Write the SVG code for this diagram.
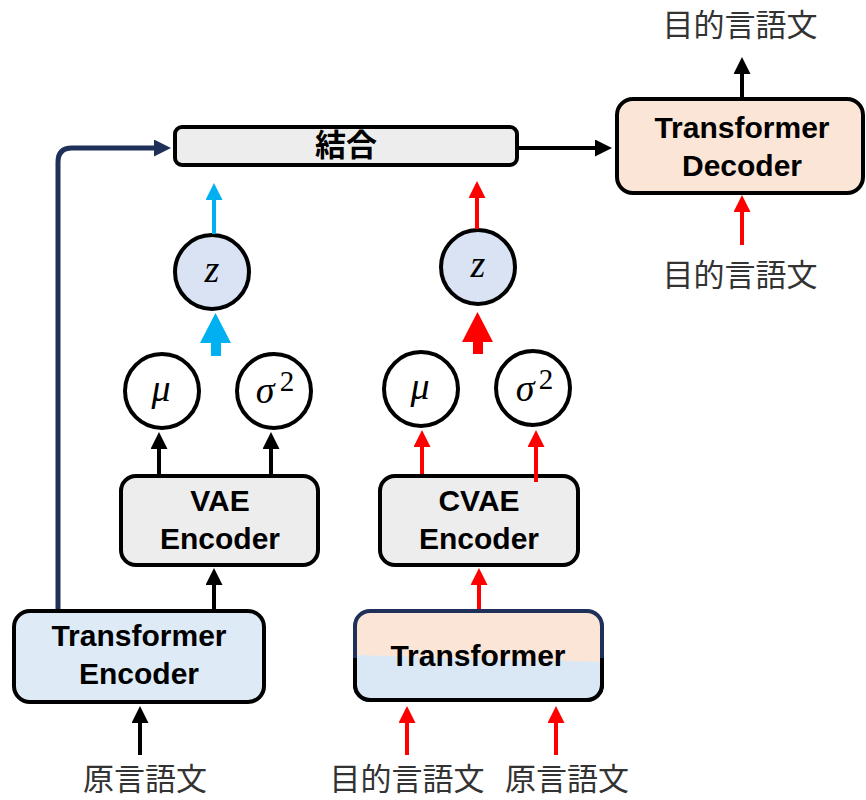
<svg xmlns="http://www.w3.org/2000/svg" width="866" height="800" viewBox="0 0 866 800">
<style>
.box{stroke:#000;stroke-width:4}
.gray{fill:#ededed}
.lbl{font-family:"Liberation Sans",Arial,sans-serif;font-weight:bold;font-size:30px;text-anchor:middle;fill:#000}
.jp{font-family:"Noto Sans CJK JP",sans-serif;font-size:31px;text-anchor:middle;fill:#333}
.jpb{font-family:"Noto Sans CJK JP",sans-serif;font-weight:bold;font-size:31px;text-anchor:middle;fill:#000}
.math{font-family:"Liberation Serif","Times New Roman",serif;font-style:italic;font-size:38px;text-anchor:middle;fill:#000}
.sup{font-family:"Liberation Serif","Times New Roman",serif;font-size:29px;text-anchor:middle;fill:#000}
.circ{fill:#fff;stroke:#000;stroke-width:4}
.zc{fill:#dae3f3;stroke:#000;stroke-width:4}
.c{fill:none;stroke-width:4}
.k{stroke:#000}
.r{stroke:#ff0000}
.b{stroke:#00b0f0}
.n{stroke:#1f3158;stroke-width:5}
</style>
<defs>
<marker id="ak" markerUnits="userSpaceOnUse" markerWidth="17" markerHeight="17" refX="0" refY="8.5" orient="auto"><path d="M0,0 L17,8.5 L0,17 z" fill="#000"/></marker>
<marker id="ar" markerUnits="userSpaceOnUse" markerWidth="17" markerHeight="17" refX="0" refY="8.5" orient="auto"><path d="M0,0 L17,8.5 L0,17 z" fill="#ff0000"/></marker>
<marker id="ab" markerUnits="userSpaceOnUse" markerWidth="17" markerHeight="17" refX="0" refY="8.5" orient="auto"><path d="M0,0 L17,8.5 L0,17 z" fill="#00b0f0"/></marker>
<marker id="an" markerUnits="userSpaceOnUse" markerWidth="17" markerHeight="17" refX="0" refY="8.5" orient="auto"><path d="M0,0 L17,8.5 L0,17 z" fill="#1f3158"/></marker>
<clipPath id="tclip"><rect x="355" y="611" width="247" height="89" rx="15"/></clipPath>
<clipPath id="lower"><rect x="340" y="658" width="280" height="60"/></clipPath>
</defs>

<g id="concat">
<rect class="box gray" x="175" y="127" width="342" height="38" rx="7"/>
<text class="jpb" x="346" y="156">結合</text>
</g>

<g id="decoder">
<rect class="box" fill="#fbe5d6" x="617" y="99" width="246" height="94" rx="16"/>
<text class="lbl" x="742" y="138">Transformer</text>
<text class="lbl" x="742" y="176">Decoder</text>
</g>

<g id="z-left">
<circle class="zc" cx="212" cy="272" r="37"/>
<text class="math" x="212" y="282">z</text>
</g>
<g id="z-right">
<circle class="zc" cx="478" cy="267" r="37"/>
<text class="math" x="478" y="277">z</text>
</g>

<g id="mu-left">
<circle class="circ" cx="162" cy="391" r="37"/>
<text class="math" x="161" y="401">μ</text>
</g>
<g id="sigma-left">
<circle class="circ" cx="274" cy="391" r="37"/>
<text class="math" x="265" y="403">σ</text>
<text class="sup" x="287" y="391">2</text>
</g>
<g id="mu-right">
<circle class="circ" cx="421" cy="389" r="37"/>
<text class="math" x="420" y="399">μ</text>
</g>
<g id="sigma-right">
<circle class="circ" cx="533" cy="388" r="37"/>
<text class="math" x="525" y="401">σ</text>
<text class="sup" x="546" y="389">2</text>
</g>

<g id="vae-encoder">
<rect class="box gray" x="121" y="476" width="197" height="89" rx="15"/>
<text class="lbl" x="220" y="511">VAE</text>
<text class="lbl" x="220" y="549">Encoder</text>
</g>
<g id="cvae-encoder">
<rect class="box gray" x="380" y="476" width="198" height="89" rx="15"/>
<text class="lbl" x="479" y="511">CVAE</text>
<text class="lbl" x="479" y="549">Encoder</text>
</g>

<g id="transformer-encoder">
<rect class="box" fill="#deebf7" x="14" y="611" width="250" height="91" rx="16"/>
<text class="lbl" x="139" y="646">Transformer</text>
<text class="lbl" x="139" y="684">Encoder</text>
</g>

<g id="transformer">
<g clip-path="url(#tclip)">
<rect x="355" y="611" width="247" height="89" fill="#fbe5d6"/>
<polygon points="355,655 602,662 602,700 355,700" fill="#dae8f5"/>
</g>
<rect x="355" y="611" width="247" height="89" rx="15" fill="none" stroke="#1f3158" stroke-width="4"/>
<rect x="355" y="611" width="247" height="89" rx="15" fill="none" stroke="#000" stroke-width="4" clip-path="url(#lower)"/>
<text class="lbl" x="478" y="666">Transformer</text>
</g>

<g id="connectors">
<path class="c n" d="M58,609 V162 Q58,148 72,148 H154" marker-end="url(#an)"/>
<path class="c k" d="M517,148 H595" marker-end="url(#ak)"/>
<path class="c b" d="M214,234 V200" marker-end="url(#ab)"/>
<path class="c r" d="M477,229 V198" marker-end="url(#ar)"/>
<polygon points="200,343 215.5,313 231,343 221,343 221,356 211,356 211,343" fill="#00b0f0"/>
<polygon points="462,342 477.5,312 493,342 483,342 483,354 473,354 473,342" fill="#ff0000"/>
<path class="c k" d="M159,474 V449" marker-end="url(#ak)"/>
<path class="c k" d="M271,474 V449" marker-end="url(#ak)"/>
<path class="c r" d="M422,474 V447" marker-end="url(#ar)"/>
<path class="c r" d="M536,482 V447" marker-end="url(#ar)"/>
<path class="c k" d="M214,609 V585" marker-end="url(#ak)"/>
<path class="c r" d="M479,609 V585" marker-end="url(#ar)"/>
<path class="c k" d="M140,755 V723" marker-end="url(#ak)"/>
<path class="c r" d="M407,755 V723" marker-end="url(#ar)"/>
<path class="c r" d="M556,755 V723" marker-end="url(#ar)"/>
<path class="c k" d="M742,97 V74" marker-end="url(#ak)"/>
<path class="c r" d="M742,245 V212" marker-end="url(#ar)"/>
</g>

<g id="labels">
<text class="jp" x="740" y="36">目的言語文</text>
<text class="jp" x="740" y="286">目的言語文</text>
<text class="jp" x="145" y="790">原言語文</text>
<text class="jp" x="407" y="790">目的言語文</text>
<text class="jp" x="567" y="790">原言語文</text>
</g>
</svg>
